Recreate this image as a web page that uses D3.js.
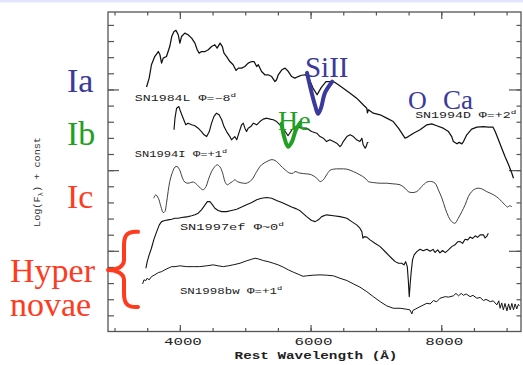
<!DOCTYPE html>
<html>
<head>
<meta charset="utf-8">
<script src="https://cdn.jsdelivr.net/npm/d3@7"></script>
<style>
  html, body { margin: 0; padding: 0; background: #ffffff; }
  svg { display: block; }
</style>
</head>
<body>
<svg id="chart" width="523" height="365"></svg>
<script>
// Spectra: [rest wavelength (Å), log F_λ + const]
const sn1994D = [
  [3490,1.515],[3530,1.570],[3565,1.653],[3615,1.704],[3670,1.735],[3695,1.715],[3720,1.663],[3745,1.694],[3795,1.704],[3845,1.766],[3875,1.828],[3910,1.859],[3940,1.866],[3975,1.839],[4000,1.787],[4025,1.828],[4075,1.849],[4125,1.839],[4180,1.818],[4230,1.787],[4265,1.746],[4295,1.725],[4330,1.735],[4385,1.735],[4435,1.746],[4485,1.766],[4535,1.777],[4570,1.756],[4615,1.787],[4650,1.766],[4675,1.725],[4715,1.704],[4765,1.673],[4815,1.653],[4860,1.618],[4895,1.632],[4945,1.632],[4995,1.642],[5045,1.663],[5100,1.673],[5135,1.673],[5175,1.642],[5200,1.653],[5250,1.611],[5300,1.591],[5350,1.591],[5405,1.580],[5455,1.549],[5480,1.560],[5505,1.591],[5560,1.622],[5610,1.632],[5660,1.611],[5710,1.580],[5760,1.570],[5810,1.580],[5860,1.588],[5915,1.591],[5965,1.579],[6035,1.510],[6100,1.467],[6160,1.510],[6235,1.548],[6350,1.549],[6425,1.529],[6500,1.508],[6605,1.477],[6705,1.446],[6805,1.405],[6860,1.384],[6870,1.355],[6885,1.374],[6960,1.353],[7065,1.343],[7165,1.322],[7265,1.301],[7345,1.260],[7395,1.229],[7445,1.198],[7495,1.208],[7575,1.229],[7675,1.250],[7780,1.281],[7855,1.287],[7930,1.275],[8030,1.260],[8110,1.239],[8160,1.208],[8185,1.177],[8240,1.163],[8275,1.172],[8315,1.163],[8340,1.177],[8390,1.219],[8465,1.254],[8545,1.267],[8645,1.270],[8720,1.267],[8790,1.267],[8825,1.239],[8875,1.188],[8925,1.136],[8975,1.084],[9030,1.033],[9080,0.981],[9105,0.950]
];
const sn1984L = [
  [3910,1.250],[3925,1.322],[3950,1.384],[3985,1.394],[4010,1.363],[4050,1.322],[4090,1.281],[4125,1.291],[4180,1.281],[4230,1.275],[4280,1.260],[4330,1.239],[4370,1.219],[4410,1.208],[4450,1.239],[4485,1.291],[4520,1.332],[4560,1.353],[4600,1.343],[4640,1.312],[4675,1.270],[4715,1.239],[4765,1.208],[4790,1.188],[4815,1.198],[4840,1.208],[4870,1.188],[4910,1.239],[4945,1.281],[4970,1.291],[4995,1.260],[5020,1.239],[5045,1.260],[5085,1.270],[5125,1.291],[5175,1.281],[5225,1.301],[5275,1.316],[5330,1.322],[5380,1.316],[5430,1.312],[5480,1.301],[5530,1.281],[5595,1.250],[5655,1.213],[5715,1.250],[5775,1.269],[5865,1.260],[5940,1.260],[6015,1.239],[6095,1.229],[6145,1.208],[6195,1.198],[6245,1.177],[6295,1.188],[6350,1.177],[6400,1.167],[6450,1.146],[6475,1.157],[6500,1.177],[6555,1.208],[6605,1.219],[6655,1.208],[6705,1.188],[6755,1.177],[6785,1.198],[6805,1.157],[6835,1.136],[6850,1.146],[6870,1.171],[6885,1.171]
];
const sn1994I = [
  [3600,0.826],[3630,0.847],[3670,0.826],[3710,0.774],[3745,0.737],[3770,0.743],[3795,0.795],[3820,0.867],[3845,0.929],[3890,0.991],[3925,1.019],[3960,1.022],[4000,0.998],[4040,0.950],[4075,0.926],[4125,0.919],[4205,0.926],[4265,0.909],[4315,0.888],[4355,0.878],[4400,0.898],[4435,0.940],[4485,0.991],[4535,1.022],[4570,1.033],[4615,1.019],[4655,0.981],[4690,0.929],[4725,0.909],[4765,0.919],[4805,0.929],[4840,0.940],[4880,0.929],[4920,0.923],[4970,0.919],[5020,0.919],[5100,0.940],[5175,0.991],[5250,1.033],[5330,1.053],[5390,1.064],[5430,1.064],[5480,1.053],[5530,1.033],[5610,1.002],[5685,0.981],[5735,0.981],[5760,0.991],[5840,0.981],[5940,0.977],[6015,0.971],[6095,0.950],[6145,0.929],[6195,0.940],[6245,0.971],[6295,0.998],[6350,1.006],[6450,1.008],[6555,1.006],[6655,0.991],[6755,0.971],[6835,0.950],[6885,0.929],[6960,0.923],[7065,0.919],[7165,0.919],[7265,0.915],[7370,0.909],[7445,0.888],[7495,0.867],[7550,0.861],[7625,0.867],[7700,0.898],[7780,0.926],[7855,0.929],[7905,0.919],[7955,0.878],[8010,0.826],[8060,0.764],[8110,0.712],[8160,0.681],[8210,0.671],[8260,0.702],[8315,0.743],[8365,0.785],[8415,0.836],[8465,0.867],[8520,0.884],[8570,0.888],[8620,0.884],[8695,0.867],[8800,0.847],[8875,0.826],[8925,0.805],[8975,0.785],[9015,0.771],[9045,0.779],[9080,0.774]
];
const sn1997ef = [
  [3480,0.392],[3500,0.433],[3530,0.475],[3565,0.516],[3600,0.568],[3645,0.619],[3685,0.661],[3720,0.681],[3770,0.688],[3820,0.692],[3875,0.696],[3925,0.702],[3975,0.702],[4025,0.706],[4075,0.709],[4125,0.712],[4180,0.717],[4230,0.723],[4280,0.733],[4330,0.754],[4385,0.785],[4420,0.805],[4460,0.805],[4500,0.785],[4535,0.764],[4585,0.750],[4640,0.743],[4715,0.743],[4790,0.750],[4870,0.758],[4945,0.771],[5020,0.785],[5100,0.799],[5175,0.816],[5250,0.826],[5330,0.830],[5405,0.826],[5480,0.812],[5560,0.799],[5635,0.785],[5710,0.771],[5785,0.760],[5840,0.748],[5940,0.712],[6015,0.688],[6070,0.681],[6120,0.692],[6170,0.712],[6245,0.723],[6350,0.717],[6450,0.712],[6555,0.702],[6630,0.681],[6705,0.661],[6755,0.640],[6785,0.619],[6800,0.578],[6820,0.588],[6860,0.585],[6910,0.568],[6985,0.547],[7065,0.526],[7165,0.485],[7240,0.454],[7295,0.433],[7345,0.423],[7395,0.423],[7430,0.413],[7455,0.433],[7480,0.402],[7495,0.320],[7510,0.216],[7525,0.299],[7540,0.371],[7560,0.444],[7585,0.475],[7625,0.495],[7675,0.510],[7725,0.500],[7780,0.510],[7830,0.497],[7875,0.509],[7905,0.490],[7945,0.506],[7980,0.487],[8020,0.502],[8060,0.489],[8110,0.506],[8160,0.526],[8210,0.537],[8250,0.556],[8290,0.557],[8325,0.546],[8365,0.572],[8405,0.568],[8440,0.585],[8480,0.577],[8520,0.593],[8555,0.583],[8595,0.599],[8645,0.599],[8670,0.580],[8695,0.589],[8720,0.609]
];
const sn1998bw = [
  [3430,0.295],[3450,0.320],[3480,0.316],[3500,0.330],[3530,0.320],[3565,0.340],[3615,0.351],[3670,0.365],[3720,0.371],[3770,0.382],[3820,0.392],[3875,0.402],[3925,0.402],[4000,0.407],[4105,0.402],[4205,0.402],[4305,0.402],[4410,0.407],[4510,0.413],[4585,0.407],[4665,0.402],[4740,0.407],[4815,0.413],[4920,0.423],[5020,0.438],[5100,0.448],[5150,0.454],[5200,0.450],[5275,0.440],[5350,0.433],[5430,0.423],[5505,0.413],[5580,0.399],[5660,0.382],[5735,0.368],[5810,0.355],[5885,0.342],[5940,0.345],[6040,0.349],[6145,0.351],[6245,0.349],[6350,0.345],[6450,0.330],[6555,0.316],[6655,0.295],[6755,0.275],[6860,0.247],[6960,0.216],[7065,0.185],[7165,0.159],[7265,0.144],[7370,0.144],[7470,0.138],[7520,0.134],[7550,0.109],[7565,0.130],[7600,0.138],[7675,0.154],[7780,0.175],[7830,0.171],[7880,0.192],[7930,0.184],[7980,0.206],[8060,0.216],[8110,0.213],[8185,0.221],[8225,0.236],[8265,0.221],[8305,0.236],[8340,0.224],[8380,0.233],[8440,0.216],[8485,0.224],[8545,0.206],[8595,0.211],[8645,0.192],[8685,0.199],[8750,0.185],[8795,0.190],[8850,0.165],[8880,0.190],[8900,0.144],[8925,0.177],[8950,0.134],[8975,0.174],[9005,0.128],[9030,0.171],[9055,0.134],[9080,0.174],[9105,0.134],[9130,0.171],[9155,0.140],[9180,0.168],[9195,0.159]
];

// Hand-drawn absorption markers
const siIIMark = [[5945,1.603],[6005,1.498],[6070,1.399],[6115,1.349],[6160,1.386],[6220,1.479],[6330,1.548]];
const heMark = [[5555,1.287],[5600,1.200],[5655,1.145],[5715,1.176],[5775,1.250],[5840,1.293]];

// Spectrum name labels: text, superscript, anchor [λ, value]
const specLabels = [
  {name: "SN1984L Φ=−8", sup: "d", at: [3310, 1.430], w: 102},
  {name: "SN1994I Φ=+1", sup: "d", at: [3310, 1.083], w: 93},
  {name: "SN1994D Φ=+2", sup: "d", at: [7600, 1.325], w: 102},
  {name: "SN1997ef Φ~0", sup: "d", at: [4000, 0.630], w: 105},
  {name: "SN1998bw Φ=+1", sup: "d", at: [4000, 0.233], w: 103}
];

// Line identifications inside the plot
const lineIds = [
  {text: "SiII", at: [5914, 1.579], color: "#3a3a9c", size: 29},
  {text: "He",   at: [5501, 1.250], color: "#22a022", size: 28},
  {text: "O",    at: [7492, 1.381], color: "#3a3a9c", size: 26},
  {text: "Ca",   at: [8028, 1.381], color: "#3a3a9c", size: 27}
];

// Axis ticks
const xMinorTicks = d3.range(3000, 9001, 500);
const xMajorTicks = [4000, 6000, 8000];
const xTickLabels = ["4000", "6000", "8000"];
const yMinorTicks = d3.range(1, 20).map(k => k / 10);
const yMajorTicks = [0.5, 1.0, 1.5];

const W = 523, H = 365;
const plot = {left: 108, right: 521, top: 12, bottom: 331.5};

const svg = d3.select("#chart");
const MONO = "'Liberation Mono', 'Courier New', monospace";
const SERIF = "'Liberation Serif', 'Times New Roman', serif";

svg.append("rect").attr("x", 0).attr("y", 0).attr("width", W).attr("height", H).attr("fill", "#ffffff");
svg.append("rect").attr("x", 0).attr("y", 0).attr("width", W).attr("height", 2.5).attr("fill", "#e3e5fa");

const x = d3.scaleLinear().domain([2900, 9220]).range([plot.left, plot.right]);
const y = d3.scaleLinear().domain([0, 1.98]).range([plot.bottom, plot.top]);

// Frame
const axisColor = "#555";
svg.append("rect")
  .attr("x", plot.left).attr("y", plot.top)
  .attr("width", plot.right - plot.left).attr("height", plot.bottom - plot.top)
  .attr("fill", "none").attr("stroke", axisColor).attr("stroke-width", 1.3);

function tickAxis(axis, transform, size) {
  const g = svg.append("g").attr("transform", transform)
    .call(axis.tickSize(size).tickFormat(""));
  g.select(".domain").remove();
  g.selectAll(".tick line").attr("stroke", axisColor).attr("stroke-width", 1.2);
  return g;
}
tickAxis(d3.axisBottom(x).tickValues(xMinorTicks), `translate(0,${plot.bottom})`, -3.5);
tickAxis(d3.axisBottom(x).tickValues(xMajorTicks), `translate(0,${plot.bottom})`, -6.5);
tickAxis(d3.axisTop(x).tickValues(xMinorTicks), `translate(0,${plot.top})`, -3.5);
tickAxis(d3.axisTop(x).tickValues(xMajorTicks), `translate(0,${plot.top})`, -7);
tickAxis(d3.axisLeft(y).tickValues(yMinorTicks), `translate(${plot.left},0)`, -6);
tickAxis(d3.axisLeft(y).tickValues(yMajorTicks), `translate(${plot.left},0)`, -11);
tickAxis(d3.axisRight(y).tickValues(yMinorTicks), `translate(${plot.right},0)`, -4.5);
tickAxis(d3.axisRight(y).tickValues(yMajorTicks), `translate(${plot.right},0)`, -12);

// Text stretched horizontally to a given advance width (wide plotting-package lettering)
function stretchText(parent, opts) {
  const g = parent.append("g");
  const t = g.append("text")
    .attr("font-family", opts.family || MONO)
    .attr("font-size", opts.size)
    .attr("font-weight", opts.weight || "normal")
    .attr("fill", opts.fill || "#111")
    .attr("text-anchor", opts.anchor || "start");
  opts.parts.forEach(p => {
    const ts = t.append("tspan").text(p.text);
    if (p.kind === "sup") ts.attr("font-size", opts.size * 0.7).attr("dy", -opts.size * 0.45);
    if (p.kind === "sub") ts.attr("font-size", opts.size * 0.75).attr("dy", opts.size * 0.3);
    if (p.kind === "after-sub") ts.attr("dy", -opts.size * 0.3);
  });
  const w = t.node().getBBox().width;
  const sx = opts.width / w;
  const rot = opts.rotate ? ` rotate(${opts.rotate})` : "";
  g.attr("transform", `translate(${opts.x},${opts.y})${rot} scale(${sx},1)`);
  return g;
}

// Spectra
const line = d3.line().x(d => x(d[0])).y(d => y(d[1]));
const smooth = d3.line().x(d => x(d[0])).y(d => y(d[1])).curve(d3.curveCatmullRom.alpha(0.5));
const spectra = [
  {data: sn1994D, w: 1.25, gen: line, color: "#111"},
  {data: sn1984L, w: 1.15, gen: line, color: "#111"},
  {data: sn1994I, w: 0.9, gen: smooth, color: "#2a2a2a"},
  {data: sn1997ef, w: 1.1, gen: line, color: "#111"},
  {data: sn1998bw, w: 1.0, gen: line, color: "#151515"}
];
spectra.forEach(s => {
  svg.append("path").attr("d", s.gen(s.data))
    .attr("fill", "none").attr("stroke", s.color)
    .attr("stroke-width", s.w).attr("stroke-linejoin", "round");
});

// Spectrum labels
specLabels.forEach(l => {
  stretchText(svg, {
    x: x(l.at[0]), y: y(l.at[1]), size: 8.5, width: l.w, fill: "#222",
    parts: [{text: l.name}, {text: l.sup, kind: "sup"}]
  });
});

// Absorption markers
const markLine = d3.line().x(d => x(d[0])).y(d => y(d[1])).curve(d3.curveCatmullRom.alpha(0.5));
svg.append("path").attr("d", markLine(siIIMark)).attr("fill", "none")
  .attr("stroke", "#3a3a9c").attr("stroke-width", 4).attr("stroke-linecap", "round").attr("stroke-linejoin", "round");
svg.append("path").attr("d", markLine(heMark)).attr("fill", "none")
  .attr("stroke", "#22a022").attr("stroke-width", 4).attr("stroke-linecap", "round").attr("stroke-linejoin", "round");

lineIds.forEach(l => {
  svg.append("text").attr("x", x(l.at[0])).attr("y", y(l.at[1]))
    .attr("font-family", SERIF).attr("font-size", l.size)
    .attr("fill", l.color).text(l.text);
});

// Supernova classes
const classes = [
  {text: "Ia", color: "#3a3a9c", yb: 92},
  {text: "Ib", color: "#22a022", yb: 144.5},
  {text: "Ic", color: "#ff3a1e", yb: 207.5},
  {text: "Hyper", color: "#ff3a1e", yb: 281.5, xl: 10},
  {text: "novae", color: "#ff3a1e", yb: 316, xl: 10}
];
classes.forEach(c => {
  svg.append("text").attr("x", c.xl || 67).attr("y", c.yb)
    .attr("font-family", SERIF).attr("font-size", 34)
    .attr("fill", c.color).text(c.text);
});

// Brace grouping the hypernovae
const bTop = y(0.618), bTip = y(0.381), bBot = y(0.152);
const bx0 = plot.left, bx1 = plot.left + 16, bx2 = plot.left + 30;
svg.append("path")
  .attr("d", `M${bx2},${bTop} C${bx1 + 2},${bTop - 1} ${bx1},${bTop + 5} ${bx1},${bTop + 14}
    L${bx1},${bTip - 10} C${bx1},${bTip - 3} ${bx0 + 8},${bTip} ${bx0},${bTip}
    C${bx0 + 8},${bTip} ${bx1},${bTip + 3} ${bx1},${bTip + 10}
    L${bx1},${bBot - 14} C${bx1},${bBot - 5} ${bx1 + 2},${bBot + 1} ${bx2},${bBot}`)
  .attr("fill", "none").attr("stroke", "#ff3a1e").attr("stroke-width", 4)
  .attr("stroke-linecap", "round").attr("stroke-linejoin", "round");

// Axis labels
xMajorTicks.forEach((v, i) => {
  stretchText(svg, {x: x(v) + 3, y: 345, size: 10, width: 38, anchor: "middle", fill: "#222",
    parts: [{text: xTickLabels[i]}]});
});
stretchText(svg, {x: 316, y: 358.5, size: 10.5, width: 163, anchor: "middle", fill: "#222", weight: "bold",
  parts: [{text: "Rest Wavelength (Å)"}]});
stretchText(svg, {x: 40, y: 182, size: 9.5, width: 90, anchor: "middle", fill: "#333", rotate: -90,
  parts: [{text: "Log(F"}, {text: "λ", kind: "sub"}, {text: ") + const", kind: "after-sub"}]});
</script>
</body>
</html>
